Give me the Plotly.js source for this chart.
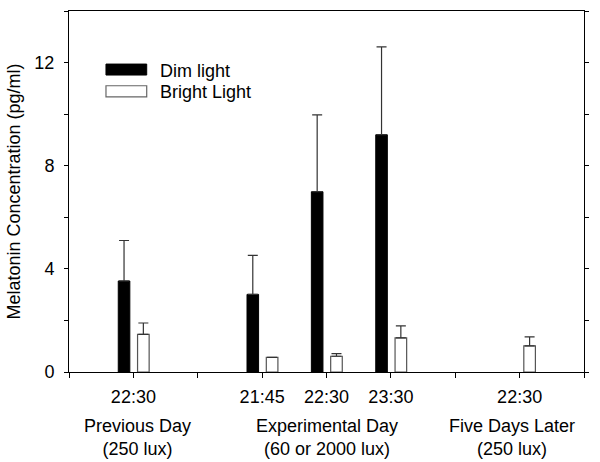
<!DOCTYPE html>
<html>
<head>
<meta charset="utf-8">
<script src="https://cdn.plot.ly/plotly-3.0.1.min.js"></script>
<style>
  html, body { margin: 0; padding: 0; background: #ffffff; }
  #chart { width: 600px; height: 462px; }
</style>
</head>
<body>
<div id="chart"></div>
<script>
// Melatonin values (pg/ml), mean and upper error
const dimX = [1, 3, 4, 5];
const dimMean = [3.53, 3.01, 6.99, 9.2];
const dimErr = [1.57, 1.51, 2.98, 3.41];

const brightX = [1, 3, 4, 5, 7];
const brightMean = [1.46, 0.57, 0.61, 1.32, 1.01];
const brightErr = [0.44, 0, 0.1, 0.47, 0.35];

// Axis ticks
const xTickVals = [0, 1, 2, 3, 4, 5, 6, 7, 8];
const xTickText = ["", "22:30", "", "21:45", "22:30", "23:30", "", "22:30", ""];
const yTickVals = [0, 2, 4, 6, 8, 10, 12, 14];
const yTickText = ["0", "", "4", "", "8", "", "12", ""];

// Group labels under the time ticks
const groupX = [1, 4, 7];
const groupLabels = ["Previous Day<br>(250 lux)", "Experimental Day<br>(60 or 2000 lux)", "Five Days Later<br>(250 lux)"];
const groupShift = [4, 0, -8];

const legendNames = ["Dim light", "Bright Light"];

const FONT = "'Liberation Sans', Arial, sans-serif";
const SIZE = 18;

// Upper-only error bars
function upperErr(values, color) {
  return {
    type: "data",
    symmetric: false,
    array: values,
    arrayminus: values.map(() => 0),
    color: color,
    thickness: 1.2,
    width: 5
  };
}

const traces = [
  {
    type: "bar",
    name: legendNames[0],
    x: dimX,
    y: dimMean,
    width: 0.18,
    offset: -0.235,
    marker: { color: "#000000", line: { color: "#000000", width: 1 } },
    error_y: upperErr(dimErr, "#333333"),
    showlegend: false,
    hoverinfo: "y"
  },
  {
    type: "bar",
    name: legendNames[1],
    x: brightX,
    y: brightMean,
    width: 0.18,
    offset: 0.065,
    marker: { color: "#ffffff", line: { color: "#555555", width: 1.2 } },
    error_y: upperErr(brightErr, "#333333"),
    showlegend: false,
    hoverinfo: "y"
  }
];

// Hand-drawn legend (wide swatches like the original)
const shapes = [
  { type: "rect", xref: "paper", yref: "paper", x0: 0.0718, x1: 0.1509, y0: 0.8226, y1: 0.853,
    fillcolor: "#000000", line: { color: "#000000", width: 1 } },
  { type: "rect", xref: "paper", yref: "paper", x0: 0.0718, x1: 0.1509, y0: 0.762, y1: 0.793,
    fillcolor: "#ffffff", line: { color: "#666666", width: 1.2 } }
];

const annotations = [
  { xref: "paper", yref: "paper", x: 0.1728, y: 0.8345, text: legendNames[0], showarrow: false,
    xanchor: "left", yanchor: "middle", font: { family: FONT, size: SIZE, color: "#000" } },
  { xref: "paper", yref: "paper", x: 0.1728, y: 0.7746, text: legendNames[1], showarrow: false,
    xanchor: "left", yanchor: "middle", font: { family: FONT, size: SIZE, color: "#000" } }
].concat(groupX.map((gx, i) => ({
  xref: "x", yref: "paper", x: gx, y: -0.1805, xshift: groupShift[i],
  text: groupLabels[i], showarrow: false, xanchor: "center", yanchor: "middle",
  font: { family: FONT, size: SIZE, color: "#000" }
})));

const layout = {
  width: 600,
  height: 462,
  margin: { l: 69, r: 16, t: 11, b: 90 },
  paper_bgcolor: "#ffffff",
  plot_bgcolor: "#ffffff",
  barmode: "overlay",
  showlegend: false,
  font: { family: FONT, size: SIZE, color: "#000" },
  xaxis: {
    range: [0, 8],
    tickmode: "array",
    tickvals: xTickVals,
    ticktext: xTickText,
    ticks: "outside",
    ticklen: 5,
    tickcolor: "#000",
    showline: true,
    linecolor: "#000",
    linewidth: 1,
    mirror: true,
    showgrid: false,
    zeroline: false,
    ticklabelstandoff: 3,
    tickfont: { family: FONT, size: SIZE, color: "#000" }
  },
  yaxis: {
    range: [0, 14],
    tickmode: "array",
    tickvals: yTickVals,
    ticktext: yTickText,
    ticks: "outside",
    ticklen: 4,
    tickcolor: "#000",
    showline: true,
    linecolor: "#000",
    linewidth: 1,
    mirror: "ticks",
    showgrid: false,
    zeroline: false,
    ticklabelstandoff: 6,
    tickfont: { family: FONT, size: SIZE, color: "#000" },
    title: { text: "Melatonin Concentration (pg/ml)", font: { family: FONT, size: SIZE, color: "#000" }, standoff: 9 }
  },
  shapes: shapes,
  annotations: annotations
};

Plotly.newPlot("chart", traces, layout, { displayModeBar: false, staticPlot: true });
</script>
</body>
</html>
